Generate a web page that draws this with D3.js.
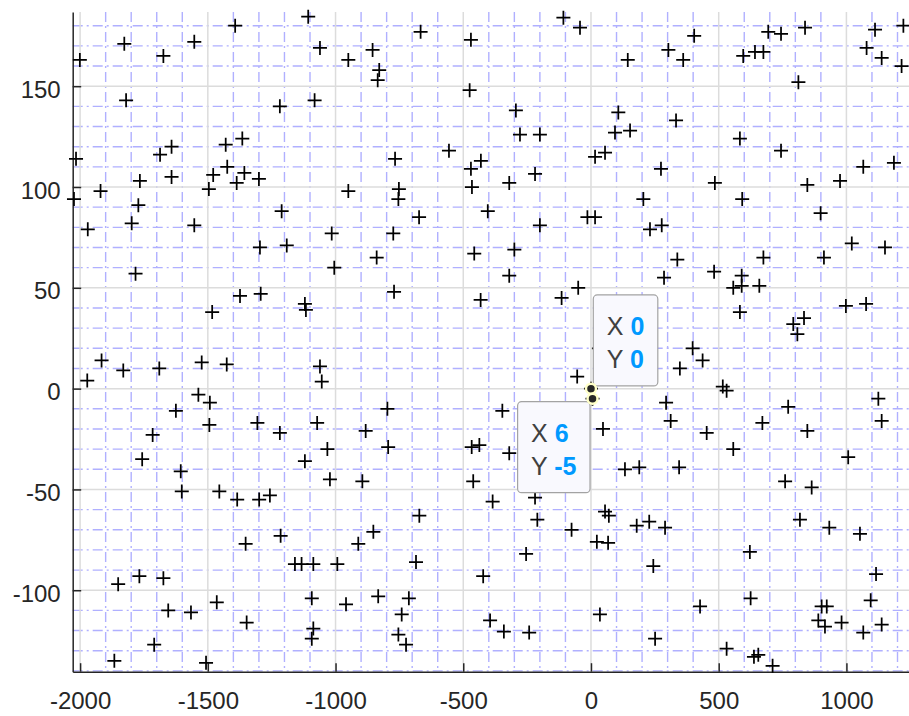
<!DOCTYPE html>
<html><head><meta charset="utf-8">
<script src="https://cdn.jsdelivr.net/npm/d3@7"></script>
<style>html,body{margin:0;padding:0;background:#fff;} svg{display:block;}</style>
</head><body>
<script>
// ---------------- data ----------------
const xTicks = [-2000, -1500, -1000, -500, 0, 500, 1000];
const yTicks = [-100, -50, 0, 50, 100, 150];

const xValues = [
  -2001,-1827,-1674,-1553,-1393,-1820,-1218,-2016,-1687,-1642,-1430,-1365,-1424,-1479,-1357,-1387,-1300,-1496,-1642,-1766,-1920,-2024,-1772,-1211,-1970,-1798,-1553,
  -1107,-1061,-950,-855,-829,-835,-667,-470,-1082,-475,-108,-43,-294,-278,-200,16,55,-556,-767,-431,-470,-219,-320,-466,-950,-752,-754,-673,-404,-200,-14,16,-1015,-774,
  144,303,361,404,596,642,675,694,744,838,812,1112,1223,1079,1138,1216,107,94,153,333,583,744,274,485,847,975,1066,1186,205,592,899,231,277,
  -1296,-1191,-1783,-1374,-1293,-1483,-1916,-1831,-1690,-1524,-1426,-1972,-1537,-1492,-1625,-1494,-1306,-1218,-1716,-1757,-1606,
  -839,-1005,-457,-300,-320,-771,-1120,-1116,-432,-115,-50,-1061,-1054,-54,-797,-347,-1072,-882,-1032,-794,-467,-437,-320,-1120,-1022,-895,-461,47,31,
  338,286,482,675,912,1021,1151,590,557,590,659,583,998,1077,792,834,808,398,437,348,516,531,294,312,453,557,671,772,847,1125,1138,1007,133,189,345,760,
  -1602,-1455,-1385,-1299,-1257,-1215,-1352,-1159,-1133,-1851,-1768,-1674,-1655,-1566,-1465,-1348,-1710,-1866,-1507,
  -385,-219,-210,-76,23,67,55,70,-672,-852,-911,-685,-1087,-993,-254,-422,-1093,-959,-833,-713,-741,-1087,-1093,-754,-724,-395,-341,-242,35,
  864,179,228,290,244,622,818,933,1053,1116,625,427,1095,903,923,890,916,981,1066,1138,251,531,638,655,711,
  0,6
];
const yValues = [
  163,171,165,172,180,143,140,114,116,120,121,124,110,106,107,102,104,99,105,103,98,94,91,88,79,82,81,
  184.5,169,163,168,158,153,177,173,143,148,184,179,138,126,126,115,117,118,114,113,109,106.5,102,100,98,99,94,85,88,81,85,85,77,77,
  163,168,163,175,165,167,167,177,176,179,152,178,180,169,164,160,137,127,128,133,124,118,109,102,101,103,110,112,94,94,87,79,81,
  70,71,57,46,47,38,14,9,10,13,12,4,-3,-7,-11,-18,-17,-22,-23,-35,-41,
  65,60,67,69,56,48,42,39,44,45,50,11,3.5,6,-10,-11,-17,-21,-30,-29,-29,-28,-32,-36,-45,-46,-46,-20,20,
  64,55,58,65,65,72,70,56,50,51,51,38,41,42,32,35,27,20,14,10,1,-1,-7,-16,-22,-30,-17,-9,-21,-5,-16,-34,-40,-39,-39,-46,
  -51,-51,-55,-55,-53,-73,-77,-87,-87,-97,-93,-94,-110,-111,-106,-116,-127,-135,-136,
  -56,-54,-65,-70,-76,-76.5,-61,-63,-63,-71,-77,-86,-87,-87,-82,-93,-104,-107,-103,-104,-112,-119,-124,-122,-127,-115,-120.5,-121,-112,
  -49,-68,-66,-69,-88,-81,-65,-69,-72,-92,-104,-108,-105,-108,-108,-115,-118,-116,-121,-117,-124,-129,-133,-132,-137.5,
  0,-5
];

// data tips
const tipX = [0, 6];
const tipY = [0, -5];

// ---------------- layout ----------------
const W = 909, H = 716;
const mLeft = 72.7, mRight = 909, mTop = 12, mBottom = 671.7;
const xDomain = [-2029, 1245], yDomain = [-140.4, 186.8];
const x = d3.scaleLinear().domain(xDomain).range([mLeft, mRight]);
const y = d3.scaleLinear().domain(yDomain).range([mBottom, mTop]);
const FONT = '"Liberation Sans", Arial, Helvetica, sans-serif';
const AX = "#262626";

const svg = d3.select("body").append("svg").attr("width", W).attr("height", H);

// minor grid
const xMinor = d3.range(-2000, 1201, 100).filter(v => v % 500 !== 0);
const yMinor = d3.range(-140, 181, 10).filter(v => v % 50 !== 0);
const gMinor = svg.append("g").attr("stroke", "#b0b0ff").attr("stroke-width", 1.4)
  .attr("stroke-dasharray", "10,4,2,4").attr("fill", "none");
gMinor.selectAll("line.vx").data(xMinor).join("line").attr("class", "vx")
  .attr("x1", d => x(d)).attr("x2", d => x(d)).attr("y1", mTop).attr("y2", mBottom);
gMinor.selectAll("line.hy").data(yMinor).join("line").attr("class", "hy")
  .attr("y1", d => y(d)).attr("y2", d => y(d)).attr("x1", mLeft).attr("x2", mRight);

// major grid
const gMajor = svg.append("g").attr("stroke", "#dcdcdc").attr("stroke-width", 1.5);
gMajor.selectAll("line.mx").data(xTicks).join("line").attr("class", "mx")
  .attr("x1", d => x(d)).attr("x2", d => x(d)).attr("y1", mTop).attr("y2", mBottom);
gMajor.selectAll("line.my").data(yTicks).join("line").attr("class", "my")
  .attr("y1", d => y(d)).attr("y2", d => y(d)).attr("x1", mLeft).attr("x2", mRight);

// axes
function styleAxis(g) {
  g.attr("font-family", null).attr("font-size", null);
  g.select(".domain").attr("stroke", AX).attr("stroke-width", 1.5);
  g.selectAll(".tick line").attr("stroke", AX).attr("stroke-width", 1.5);
  g.selectAll(".tick text").attr("fill", AX).style("font-family", FONT).style("font-size", "24px");
}
const gx = svg.append("g").attr("transform", `translate(0,${mBottom})`)
  .call(d3.axisBottom(x).tickValues(xTicks).tickSizeInner(-8.5).tickSizeOuter(0)
    .tickPadding(20).tickFormat(d => String(d)));
styleAxis(gx);

const gy = svg.append("g").attr("transform", `translate(${mLeft},0)`)
  .call(d3.axisLeft(y).tickValues(yTicks).tickSizeInner(-8.5).tickSizeOuter(0)
    .tickPadding(12).tickFormat(d => String(d)));
styleAxis(gy);
gy.selectAll(".tick text").attr("dy", "0.46em");

// markers
const pts = xValues.map((v, i) => [v, yValues[i]]);
svg.append("g").attr("stroke", "#000").attr("stroke-width", 1.75).attr("fill", "none")
  .selectAll("path").data(pts).join("path")
  .attr("transform", d => `translate(${x(d[0])},${y(d[1])})`)
  .attr("d", "M-7,0H7M0,-7V7");

// data tips
const tips = tipX.map((v, i) => ({ x: v, y: tipY[i] }));
const place = [{ dx: 2.3, dy: -93.7, right: true }, { dx: -2.5, dy: 3, right: false }];
tips.forEach((t, i) => {
  const px = x(t.x), py = y(t.y);
  const g = svg.append("g");
  const txt = g.append("g").style("font-family", FONT).style("font-size", "25px");
  const rows = [["X", t.x], ["Y", t.y]];
  const texts = rows.map((r, j) => {
    const te = txt.append("text");
    te.append("tspan").attr("fill", "#404040").text(r[0] + " ");
    te.append("tspan").attr("fill", "#0099ff").attr("font-weight", "bold").text(String(r[1]));
    return te;
  });
  const tw = d3.max(texts, te => te.node().getComputedTextLength());
  const bw = 13 + tw + 14, bh = 91;
  const bx = place[i].right ? px + place[i].dx : px + place[i].dx - bw;
  const by = py + place[i].dy;
  g.insert("rect", ":first-child").attr("x", bx).attr("y", by).attr("width", bw).attr("height", bh)
    .attr("rx", 4).attr("fill", "#f9f9fe").attr("stroke", "#a3a3a3").attr("stroke-width", 1.2);
  texts.forEach((te, j) => te.attr("x", bx + 13.5).attr("y", by + [40, 73][j]));
});
svg.append("g").selectAll("circle").data(tips).join("circle")
  .attr("cx", d => x(d.x)).attr("cy", d => y(d.y)).attr("r", 5)
  .attr("fill", "#262626").attr("stroke", "#ffffc8").attr("stroke-width", 2.5);
</script>
</body></html>
